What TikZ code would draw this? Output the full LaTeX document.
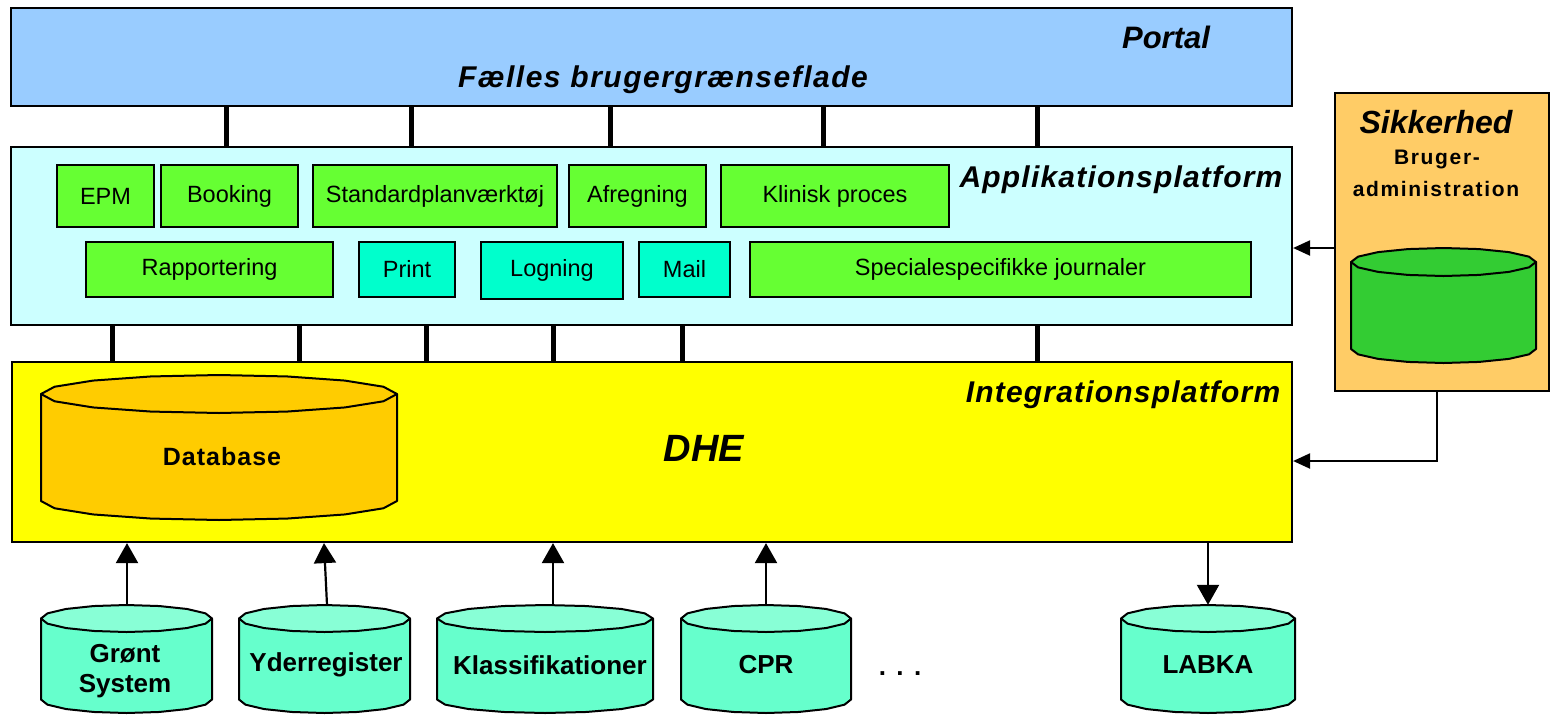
\documentclass[tikz,border=0pt]{standalone}
\usepackage{fontspec}
\setmainfont{Liberation Sans}
\usetikzlibrary{arrows.meta}

\definecolor{portalblue}{HTML}{99CCFF}
\definecolor{appcyan}{HTML}{CCFFFF}
\definecolor{modgreen}{HTML}{66FF33}
\definecolor{modcyan}{HTML}{00FFCC}
\definecolor{integyellow}{HTML}{FFFF00}
\definecolor{dbgold}{HTML}{FFCC00}
\definecolor{secorange}{HTML}{FFCC66}
\definecolor{secgreen}{HTML}{33CC33}
\definecolor{srcbody}{HTML}{66FFCC}
\definecolor{srctop}{HTML}{88FFD6}

% drum (database) shape: name, left, top, right, bottom, end radius, body fill, end fill
\newcommand\drumshape[8]{%
  \pgfmathsetmacro\drcx{(#2+#4)/2}%
  \pgfmathsetmacro\drrx{(#4-#2)/2}%
  \pgfmathsetmacro\drtop{#3+#6}%
  \pgfmathsetmacro\drbot{#5-#6}%
  \node[inner sep=0pt, minimum width={#4-#2}, minimum height={#5-#3}] (#1) at (\drcx,{(#3+#5)/2}) {};
  \filldraw[drum, fill=#7] (#2,\drtop) -- (#2,\drbot)
     -- plot[samples=9, domain=180:0] ({\drcx+\drrx*cos(\x)},{\drbot+#6*sin(\x)})
     -- (#4,\drtop) -- cycle;
  \filldraw[drum, fill=#8] plot[samples=17, domain=0:360] ({\drcx+\drrx*cos(\x)},{\drtop+#6*sin(\x)}) -- cycle;
}

\begin{document}
\begin{tikzpicture}[x=1pt, y=-1pt,
  layer/.style={draw, line width=2.2pt, inner sep=0pt},
  module/.style={draw, line width=2pt, inner sep=0pt, minimum height=62,
    font=\fontsize{23.5}{27}\selectfont},
  drum/.style={line width=2pt, line join=round},
  bus/.style={line width=5pt},
  uparrow/.style={line width=2.2pt, -{Triangle[width=22pt,length=20pt]}},
  sidearrow/.style={line width=2.2pt, -{Triangle[width=15pt,length=17pt]}},
  layertitle/.style={font=\fontsize{30}{34}\selectfont\bfseries\itshape\addfontfeature{LetterSpace=4}, anchor=base, inner sep=0pt},
  admlabel/.style={font=\fontsize{21}{25}\selectfont\bfseries\addfontfeature{LetterSpace=8}, anchor=base, inner sep=0pt},
  srclabel/.style={font=\fontsize{26}{30}\selectfont\bfseries, align=center, inner sep=0pt}
]
\useasboundingbox (0,0) rectangle (1551,716);

% layers
\node[layer, fill=portalblue, minimum width=1281, minimum height=98] (portal) at (651.5,57) {};
\node[layer, fill=appcyan, minimum width=1281, minimum height=178] (app) at (651.5,236) {};
\node[layer, fill=integyellow, minimum width=1280, minimum height=180] (integ) at (652,452) {};
\node[layer, fill=secorange, minimum width=214, minimum height=298] (sik) at (1442,242) {};

% layer titles
\node[font=\fontsize{31}{35}\selectfont\bfseries\itshape, anchor=base, inner sep=0pt] (portaltitle) at (1166,48) {Portal};
\node[font=\fontsize{30}{34}\selectfont\bfseries\itshape\addfontfeature{LetterSpace=5}, anchor=base, inner sep=0pt] (portalsub) at (663,87) {Fælles brugergrænseflade};
\node[layertitle] (apptitle) at (1121,187) {Applikationsplatform};
\node[layertitle] (integtitle) at (1123,402) {Integrationsplatform};
\node[font=\fontsize{38}{42}\selectfont\bfseries\itshape, inner sep=0pt] (dhe) at (704,448) {DHE};
\node[font=\fontsize{32}{36}\selectfont\bfseries\itshape, anchor=base, inner sep=0pt] (siktitle) at (1436,133) {Sikkerhed};
\node[admlabel] (sikadm1) at (1437,164) {Bruger-};
\node[admlabel] (sikadm2) at (1436,196) {administration};

% application modules
\node[module, fill=modgreen, minimum width=97] (epm) at (105.5,196) {EPM};
\node[module, fill=modgreen, minimum width=137] (booking) at (229.5,196) {Booking};
\node[module, fill=modgreen, minimum width=244] (stdplan) at (435,196) {Standardplanværktøj};
\node[module, fill=modgreen, minimum width=137] (afregning) at (637.5,196) {Afregning};
\node[module, fill=modgreen, minimum width=228] (klinisk) at (835,196) {Klinisk proces};
\node[module, fill=modgreen, minimum width=247, minimum height=55] (rapport) at (209.5,269.5) {Rapportering};
\node[module, fill=modcyan, minimum width=96, minimum height=55] (print) at (407,269.5) {\raisebox{-5pt}{Print}};
\node[module, fill=modcyan, minimum width=142, minimum height=57] (logning) at (552,270.5) {Logning};
\node[module, fill=modcyan, minimum width=91, minimum height=55] (mail) at (684.5,269.5) {Mail};
\node[module, fill=modgreen, minimum width=501, minimum height=55] (special) at (1000.5,269.5) {Specialespecifikke journaler};

% portal to application platform
\foreach \bx in {226,411,610,823,1037}
  \draw[bus] (\bx,0 |- portal.south) -- (\bx,0 |- app.north);
% application platform to integration platform
\foreach \bx in {112,299,426,553,682,1037}
  \draw[bus] (\bx,0 |- app.south) -- (\bx,0 |- integ.north);

% databases
\drumshape{db}{41}{375}{397}{520}{19}{dbgold}{dbgold}
\node[font=\fontsize{25}{30}\selectfont\bfseries\addfontfeature{LetterSpace=4}, inner sep=0pt] (dblabel) at (222,457) {Database};
\drumshape{userdb}{1351}{248}{1536}{363}{14}{secgreen}{secgreen}

% source systems
\drumshape{gs}{41}{605}{212}{713}{13.5}{srcbody}{srctop}
\drumshape{yr}{239}{605}{410}{713}{13.5}{srcbody}{srctop}
\drumshape{kl}{437}{605}{653}{713}{13.5}{srcbody}{srctop}
\drumshape{cpr}{681}{605}{851}{713}{13.5}{srcbody}{srctop}
\drumshape{labka}{1121}{605}{1295}{713}{13.5}{srcbody}{srctop}
\node[srclabel] (gslabel) at (125,671) {Grønt\\System};
\node[srclabel] (yrlabel) at (326,665) {Yderregister};
\node[srclabel] (kllabel) at (550,665) {Klassifikationer};
\node[srclabel] (cprlabel) at (766,665) {CPR};
\node[srclabel] (labkalabel) at (1208,665) {LABKA};
\node[font=\fontsize{26}{30}\selectfont\bfseries\addfontfeature{LetterSpace=40}, anchor=base, inner sep=0pt] (more) at (900,675) {...};

% data flows into the integration platform
\draw[uparrow] (127,0 |- gs.north) -- (127,0 |- integ.south);
\draw[uparrow] (327,0 |- yr.north) -- (324,0 |- integ.south);
\draw[uparrow] (553,0 |- kl.north) -- (553,0 |- integ.south);
\draw[uparrow] (766,0 |- cpr.north) -- (766,0 |- integ.south);
\draw[uparrow] (1208,0 |- integ.south) -- (1208,0 |- labka.north);

% security links
\draw[sidearrow] (sik.west |- 0,248) -- (app.east |- 0,248);
\coordinate (sikbend) at (1437,461);
\draw[sidearrow] (1437,0 |- sik.south) -- (sikbend) -- (integ.east |- sikbend);
\end{tikzpicture}
\end{document}
